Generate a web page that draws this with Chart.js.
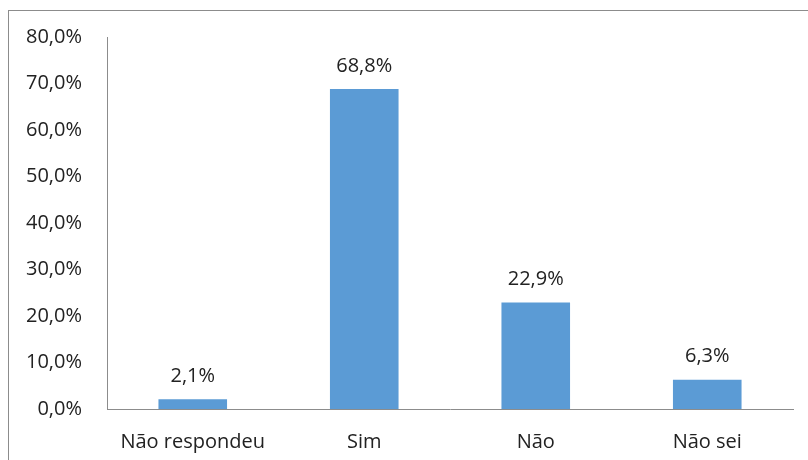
<!DOCTYPE html>
<html lang="pt">
  <head>
    <meta charset="UTF-8" />
    <title>Gráfico</title>
    <script src="https://cdn.jsdelivr.net/npm/chart.js@4"></script>
    <style>
      body { margin: 0; background: #fff; }
      #wrap { position: relative; width: 808px; height: 460px; overflow: hidden; }
      #frame { position: absolute; left: 8px; top: 10px; width: 900px; height: 600px; border: 1px solid #8c8c8c; box-sizing: border-box; }
      canvas { position: absolute; left: 0; top: 0; }
    </style>
  </head>
  <body>
    <div id="wrap">
      <div id="frame"></div>
      <canvas id="myChart" width="808" height="460"></canvas>
    </div>
    <script>
      const categorias = ['Não respondeu', 'Sim', 'Não', 'Não sei'];
      const valores = [2.1, 68.8, 22.9, 6.3];
      const yMax = 80;
      const yPasso = 10;

      const fmt = v => v.toFixed(1).replace('.', ',') + '%';
      const fonte = { family: 'Open Sans', size: 20 };

      // rótulos em cima das barras
      const rotulos = {
        id: 'rotulos',
        afterDatasetsDraw(chart) {
          const ctx = chart.ctx;
          const meta = chart.getDatasetMeta(0);
          ctx.save();
          ctx.font = '20px "Open Sans"';
          ctx.fillStyle = '#222';
          ctx.textAlign = 'center';
          ctx.textBaseline = 'middle';
          meta.data.forEach((bar, i) => {
            ctx.fillText(fmt(valores[i]), bar.x, bar.y - 23);
          });
          ctx.restore();
        }
      };

      const ctx = document.getElementById('myChart').getContext('2d');
      new Chart(ctx, {
        type: 'bar',
        data: {
          labels: categorias,
          datasets: [{
            data: valores,
            backgroundColor: '#5b9bd5',
            categoryPercentage: 1,
            barPercentage: 0.4
          }]
        },
        options: {
          responsive: false,
          animation: false,
          layout: { padding: { top: 37, right: 15, left: 0, bottom: 0 } },
          plugins: { legend: { display: false }, tooltip: { enabled: false } },
          scales: {
            x: {
              grid: { display: false },
              border: { display: true, color: '#8c8c8c' },
              ticks: { color: '#222', font: fonte, padding: 13, maxRotation: 0 },
              afterFit: s => { s.height = 51; }
            },
            y: {
              min: 0,
              max: yMax,
              grid: { display: false },
              border: { display: true, color: '#8c8c8c' },
              ticks: { stepSize: yPasso, color: '#222', font: fonte, padding: 17, callback: v => fmt(v) },
              afterFit: s => { s.width = 107; }
            }
          }
        },
        plugins: [rotulos]
      });
    </script>
  </body>
</html>
